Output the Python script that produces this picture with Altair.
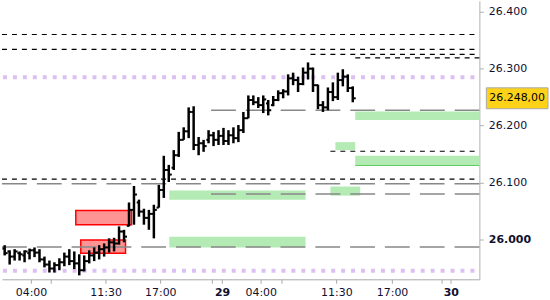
import altair as alt
import pandas as pd

# ---------------- data ----------------
slots = list(range(71))
opens = [25.984, 25.979, 25.970, 25.976, 25.972, 25.976, 25.981, 25.977, 25.965, 25.956,
         25.949, 25.955, 25.960, 25.970, 25.962, 25.958, 25.946, 25.962, 25.972, 25.977,
         25.983, 25.986, 25.995, 25.993, 26.014, 26.024, 26.052, 26.065, 26.049, 26.038,
         26.045, 26.056, 26.087, 26.122, 26.126, 26.148, 26.175, 26.190, 26.224, 26.166,
         26.169, 26.175, 26.183, 26.175, 26.182, 26.173, 26.183, 26.178, 26.192, 26.213,
         26.245, 26.241, 26.236, 26.239, 26.236, 26.245, 26.257, 26.260, 26.283, 26.280,
         26.273, 26.293, 26.300, 26.271, 26.236, 26.232, 26.259, 26.250, 26.280, 26.286,
         26.266]
highs = [25.990, 25.981, 25.983, 25.979, 25.981, 25.984, 25.986, 25.983, 25.970, 25.963,
         25.960, 25.967, 25.977, 25.983, 25.979, 25.974, 25.972, 25.981, 25.986, 25.990,
         25.993, 26.002, 26.003, 26.023, 26.017, 26.065, 26.094, 26.070, 26.054, 26.052,
         26.061, 26.096, 26.147, 26.131, 26.157, 26.189, 26.197, 26.232, 26.234, 26.180,
         26.175, 26.192, 26.189, 26.192, 26.196, 26.192, 26.197, 26.201, 26.224, 26.253,
         26.253, 26.250, 26.253, 26.245, 26.252, 26.262, 26.264, 26.290, 26.293, 26.286,
         26.302, 26.311, 26.302, 26.272, 26.243, 26.267, 26.276, 26.293, 26.299, 26.290,
         26.269]
lows = [25.972, 25.956, 25.963, 25.963, 25.960, 25.965, 25.969, 25.960, 25.951, 25.942,
        25.942, 25.946, 25.953, 25.955, 25.948, 25.937, 25.944, 25.958, 25.962, 25.965,
        25.970, 25.977, 25.979, 25.991, 25.995, 26.023, 26.026, 26.040, 26.026, 26.017,
        26.002, 26.056, 26.073, 26.101, 26.122, 26.145, 26.175, 26.178, 26.157, 26.148,
        26.154, 26.169, 26.164, 26.166, 26.166, 26.166, 26.169, 26.171, 26.187, 26.213,
        26.236, 26.231, 26.222, 26.218, 26.234, 26.243, 26.248, 26.253, 26.271, 26.259,
        26.271, 26.281, 26.259, 26.229, 26.224, 26.227, 26.243, 26.245, 26.269, 26.259,
        26.241]
closes = [25.976, 25.970, 25.979, 25.974, 25.979, 25.981, 25.977, 25.965, 25.956, 25.949,
          25.955, 25.960, 25.970, 25.962, 25.958, 25.946, 25.962, 25.972, 25.977, 25.983,
          25.986, 25.995, 25.993, 26.014, 26.005, 26.052, 26.079, 26.049, 26.038, 26.045,
          26.052, 26.087, 26.122, 26.114, 26.148, 26.175, 26.190, 26.224, 26.166, 26.169,
          26.164, 26.183, 26.175, 26.182, 26.173, 26.183, 26.178, 26.192, 26.213, 26.245,
          26.241, 26.236, 26.246, 26.227, 26.245, 26.257, 26.260, 26.283, 26.280, 26.273,
          26.293, 26.300, 26.271, 26.236, 26.232, 26.259, 26.250, 26.280, 26.286, 26.266,
          26.248]

x_min, x_max = -0.54, 95.46
y_min, y_max = 25.9301, 26.4192

black_levels = [26.360, 26.334, 26.325, 26.319, 26.155, 26.106]
black_starts = [x_min, x_min, 61.5, 70.5, 65.5, x_min]
gray_levels = [26.227, 26.098, 26.080, 25.987]
gray_starts = [41.5, x_min, 41.5, x_min]
purple_levels = [26.285, 25.945]

green_x0 = [33.1, 33.1, 65.5, 66.5, 70.5, 70.5]
green_x1 = [60.5, 60.5, 71.5, 70.5, x_max, x_max]
green_lo = [26.070, 25.986, 26.077, 26.157, 26.210, 26.130]
green_hi = [26.086, 26.005, 26.093, 26.171, 26.225, 26.147]

red_x0 = [14.3, 15.3]
red_x1 = [25.5, 24.3]
red_lo = [26.026, 25.976]
red_hi = [26.051, 25.999]

last_price = 26.248
last_label = "26.248,00"

y_ticks = [26.0, 26.1, 26.2, 26.3, 26.4]
x_tick_vals = [5.3, 9.3, 20.3, 31.3, 41.6, 43.7, 51.5, 55.7, 66.7, 77.9, 87.9, 89.7]
x_tick_text = ['04:00', '', '11:30', '17:00', '', '29', '04:00', '', '11:30', '17:00', '', '30']

# ---------------- chart ----------------
FONT = 'DejaVu Sans'
xs = alt.Scale(domain=[x_min, x_max], nice=False, zero=False)
ys = alt.Scale(domain=[y_min, y_max], nice=False, zero=False)

label_expr = "".join(f"datum.value == {v} ? '{t}' : " for v, t in zip(x_tick_vals, x_tick_text)) + "''"
bold_test = " || ".join(f"datum.value == {v}" for v, t in zip(x_tick_vals, x_tick_text) if t in ('29', '30'))

x_axis = alt.Axis(values=x_tick_vals, labelExpr=label_expr, title=None, orient='bottom',
                  domainColor='#a8a8a8', tickColor='#a8a8a8', tickSize=4,
                  labelFont=FONT, labelFontSize=11, labelColor='#101030', labelPadding=3,
                  labelOverlap=False, labelFlush=False, grid=False,
                  labelFontWeight={"condition": {"test": bold_test, "value": "bold"}, "value": "normal"})
y_axis = alt.Axis(values=y_ticks, format='.3f', orient='right', title=None,
                  domainColor='#b0b0b0', tickColor='#b0b0b0', tickSize=4,
                  labelFont=FONT, labelFontSize=11, labelColor='#101030', labelPadding=5,
                  grid=False, labelFlush=False, labelOverlap=False,
                  labelFontWeight={"condition": {"test": "datum.value == 26", "value": "bold"}, "value": "normal"})


def X(field):
    return alt.X(field, scale=xs, axis=x_axis)


def Y(field):
    return alt.Y(field, scale=ys, axis=y_axis)


green_df = pd.DataFrame({'x0': green_x0, 'x1': green_x1, 'lo': green_lo, 'hi': green_hi})
red_df = pd.DataFrame({'x0': red_x0, 'x1': red_x1, 'lo': red_lo, 'hi': red_hi})

green = alt.Chart(green_df).mark_rect(color='#b4ebb4').encode(
    x=X('x0:Q'), x2='x1:Q', y=Y('lo:Q'), y2='hi:Q')
green_edge = alt.Chart(green_df.iloc[[5]]).mark_rule(color='#5ccc5c', strokeWidth=1).encode(
    x=X('x0:Q'), x2='x1:Q', y=Y('lo:Q'))
red = alt.Chart(red_df).mark_rect(color='#ff9494', stroke='#ff0000', strokeWidth=1.5).encode(
    x=X('x0:Q'), x2='x1:Q', y=Y('lo:Q'), y2='hi:Q')

purple_df = pd.DataFrame({'start': [x_min] * len(purple_levels), 'end': [x_max] * len(purple_levels),
                          'level': purple_levels})
gray_df = pd.DataFrame({'start': gray_starts, 'end': [x_max] * len(gray_levels), 'level': gray_levels})
black_df = pd.DataFrame({'start': black_starts, 'end': [x_max] * len(black_levels), 'level': black_levels})


def level_layer(df, **kw):
    return alt.Chart(df).mark_rule(**kw).encode(x=X('start:Q'), x2='end:Q', y=Y('level:Q'))


purple = level_layer(purple_df, color='#dcc0f3', strokeWidth=4, strokeDash=[4, 6], strokeDashOffset=-1)
gray = level_layer(gray_df, color='#888888', strokeWidth=1.5, strokeDash=[25, 10])
black = level_layer(black_df, color='#000000', strokeWidth=1.2, strokeDash=[5, 5])

bars_df = pd.DataFrame({'slot': slots, 'open': opens, 'high': highs, 'low': lows, 'close': closes})
base = alt.Chart(bars_df)
hl = base.mark_rule(color='black', strokeWidth=2.5).encode(x=X('slot:Q'), y=Y('low:Q'), y2='high:Q')
op = base.transform_calculate(tl='datum.slot - 0.45').mark_rule(color='black', strokeWidth=2).encode(
    x=X('tl:Q'), x2='slot:Q', y=Y('open:Q'))
cl = base.transform_calculate(tr='datum.slot + 0.6').mark_rule(color='black', strokeWidth=2).encode(
    x=X('slot:Q'), x2='tr:Q', y=Y('close:Q'))

tag_df = pd.DataFrame({'price': [last_price], 'label': [last_label]})
tag = alt.Chart(tag_df).mark_point(shape='M-1,-0.339H1V0.339H-1Z', size=3844, filled=True,
                                   fill='#ffd21a', stroke='#a8a8a8', strokeWidth=1, opacity=1).encode(
    x=alt.value(518), y=Y('price:Q'))
tag_text = alt.Chart(tag_df).mark_text(align='left', baseline='middle', font=FONT, fontSize=11,
                                       color='#000000').encode(
    x=alt.value(490), y=Y('price:Q'), text='label:N')

chart = alt.layer(green, green_edge, red, purple, gray, black, hl, op, cl, tag, tag_text).properties(
    width=480, height=280, padding=0, background='white'
).configure_view(stroke=None)

chart.save("out.html", embed_options={"renderer": "svg", "actions": False})
